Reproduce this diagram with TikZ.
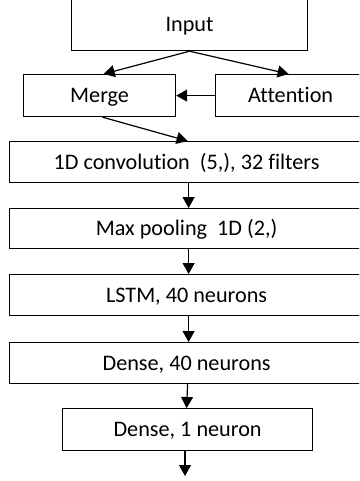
\documentclass[tikz,border=0pt]{standalone}
\usepackage{fontspec}
\setmainfont[Ligatures=NoCommon]{Carlito}
\usetikzlibrary{arrows.meta}
\begin{document}
\begin{tikzpicture}[x=1pt,y=-1pt,
    layer/.style={draw=black, line width=1.2pt, fill=white, inner sep=0pt,
      anchor=north west, text height=14pt, text depth=0pt,
      font=\fontsize{22.2}{24}\selectfont},
    flow/.style={draw=black, line width=1.2pt,
      -{Triangle[length=11pt,width=12pt]}}]
  \useasboundingbox (0,0) rectangle (359,481);
  \clip (0,0) rectangle (359,481);

  % layer boxes (wide ones run past the right edge)
  \node[layer, minimum width=236pt, minimum height=52pt] (input) at (71,-2) {Input};
  \node[layer, minimum width=152pt, minimum height=42pt] (merge) at (23,74) {Merge};
  \node[layer, minimum width=150pt, minimum height=42pt] (att) at (215,74) {Attention};
  \node[layer, minimum width=354pt, minimum height=41pt] (conv) at (9,141) {1D convolution\ \ (5,), 32 filters};
  \node[layer, minimum width=354pt, minimum height=40pt] (pool) at (9,208) {Max pooling\ \ 1D (2,)};
  \node[layer, minimum width=354pt, minimum height=41pt] (lstm) at (9,274) {LSTM, 40 neurons};
  \node[layer, minimum width=354pt, minimum height=41pt] (dense) at (9,342) {Dense, 40 neurons};
  \node[layer, minimum width=250pt, minimum height=42pt] (out) at (62,408) {Dense, 1 neuron};
  \coordinate (end) at (185,476);

  % connectors
  \draw[flow] (input.south) -- ([xshift=4pt]merge.north);
  \draw[flow] (input.south) -- ([xshift=-2pt]att.north);
  \draw[flow] (att.west) -- (merge.east);
  \draw[flow] ([xshift=3pt]merge.south) -- ([xshift=1pt]conv.north);
  \draw[flow] ([xshift=2pt]conv.south) -- ([xshift=2pt]pool.north);
  \draw[flow] ([xshift=2pt]pool.south) -- ([xshift=2pt]lstm.north);
  \draw[flow] ([xshift=2pt]lstm.south) -- ([xshift=2pt]dense.north);
  \draw[flow] ([xshift=1pt]dense.south) -- ([xshift=-1pt]out.north);
  \draw[flow] (out.south -| end) -- (end);
\end{tikzpicture}
\end{document}
